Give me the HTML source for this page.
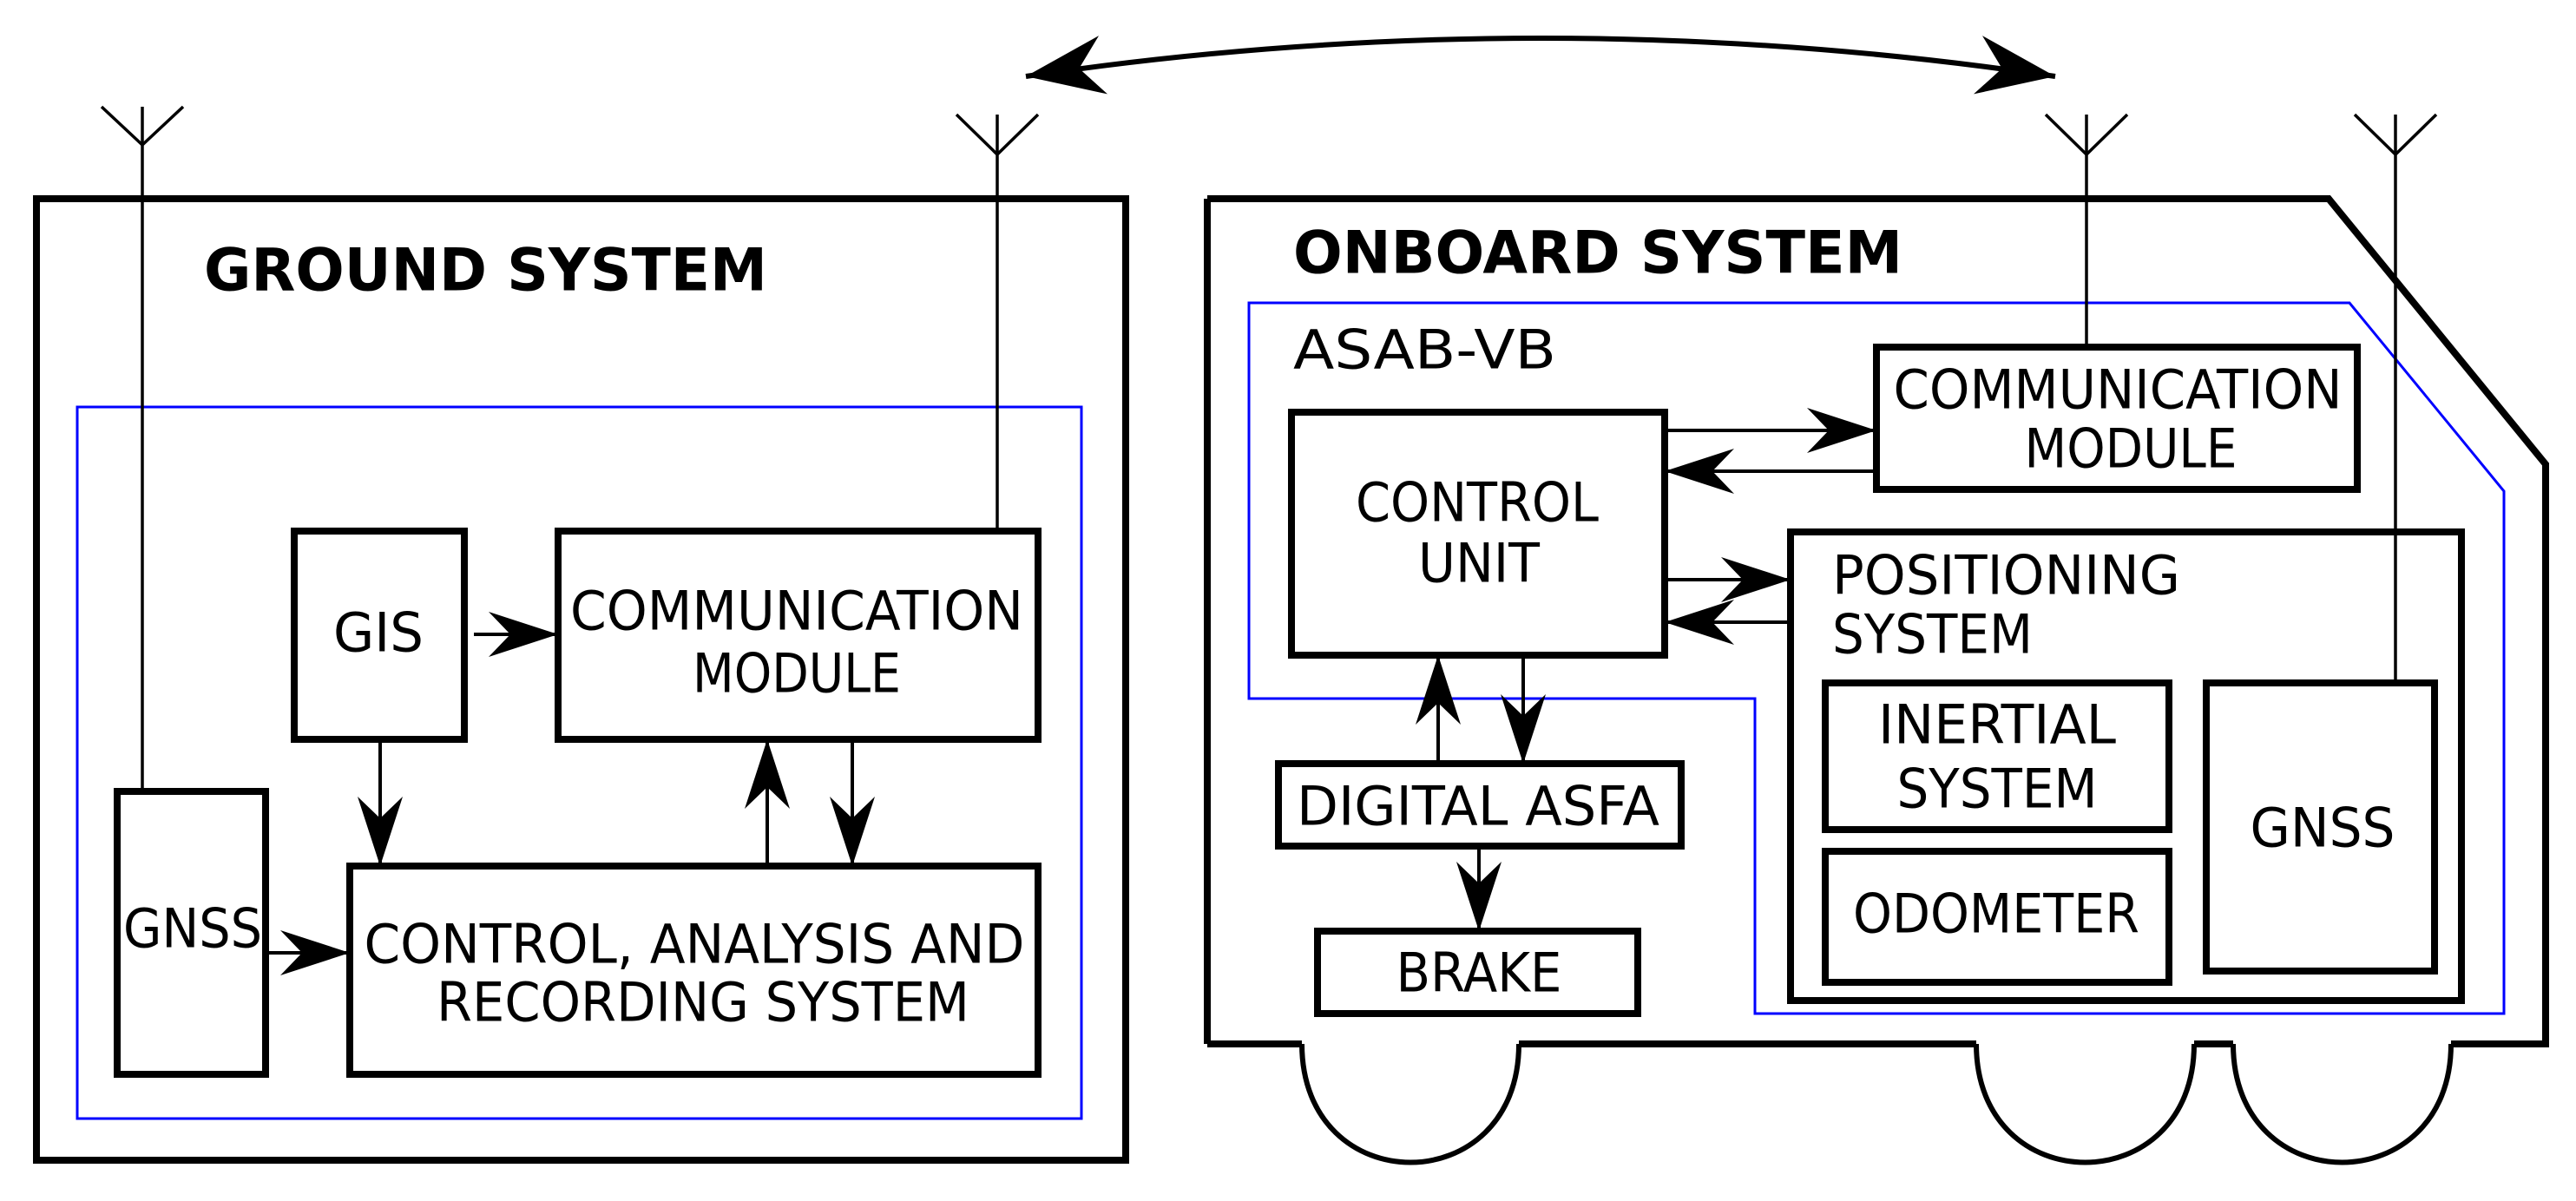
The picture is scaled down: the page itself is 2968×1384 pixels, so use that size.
<!DOCTYPE html>
<html><head><meta charset="utf-8"><style>
html,body{margin:0;padding:0;background:#fff;}
svg{display:block;}
text{font-family:"DejaVu Sans","Liberation Sans",sans-serif;font-size:62px;fill:#000;}
.b{font-weight:bold;font-size:68px;}
</style></head><body>
<svg width="2968" height="1384" viewBox="0 0 2968 1384" xmlns="http://www.w3.org/2000/svg">
<defs>
<marker id="ah" markerUnits="userSpaceOnUse" markerWidth="100" markerHeight="70" refX="0" refY="0" viewBox="-90 -35 100 70" orient="auto-start-reverse">
<path d="M0,0 L-80,-26 L-55,0 L-80,26 Z" fill="#000"/>
</marker>
<marker id="ah2" markerUnits="userSpaceOnUse" markerWidth="120" markerHeight="90" refX="0" refY="0" viewBox="-110 -45 120 90" orient="auto-start-reverse">
<path d="M0,0 L-90,-34 L-62,0 L-90,34 Z" fill="#000"/>
</marker>
</defs>
<g fill="none" stroke="#000">
<path d="M1182,88 Q1775,0 2368,88" stroke-width="6" marker-start="url(#ah2)" marker-end="url(#ah2)"/>

<rect x="42" y="229" width="1255" height="1108" stroke-width="8"/>
<rect x="89" y="469" width="1157" height="820" stroke="#0000ff" stroke-width="3"/>
<path d="M164,123 V908 M117,123 L164,167 L211,123" stroke-width="3.5"/>
<path d="M1149,132 V610 M1102,132 L1149,178 L1196,132" stroke-width="3.5"/>
<rect x="339" y="612" width="196" height="240" stroke-width="8"/>
<rect x="643" y="612" width="553" height="240" stroke-width="8"/>
<rect x="135" y="912" width="171" height="326" stroke-width="8"/>
<rect x="403" y="998" width="793" height="240" stroke-width="8"/>
<g stroke-width="4">
<line x1="546" y1="731" x2="643" y2="731" marker-end="url(#ah)"/>
<line x1="438" y1="852" x2="438" y2="998" marker-end="url(#ah)"/>
<line x1="884" y1="998" x2="884" y2="852" marker-end="url(#ah)"/>
<line x1="982" y1="852" x2="982" y2="998" marker-end="url(#ah)"/>
<line x1="306" y1="1098" x2="403" y2="1098" marker-end="url(#ah)"/>
</g>

<path d="M1391,229 L2683,229 L2933,535 L2933,1203 L2824,1203 M2573,1203 L2528,1203 M2277,1203 L1750,1203 M1500,1203 L1391,1203 Z" stroke-width="8" stroke-linejoin="miter"/>
<path d="M1391,229 V1203" stroke-width="8"/>
<path d="M2824,1203 C2824,1385 2573,1385 2573,1203 M2528,1203 C2528,1385 2277,1385 2277,1203 M1750,1203 C1750,1385 1500,1385 1500,1203" stroke-width="6"/>
<path d="M1439,349 L2707,349 L2885,566 L2885,1168 L2022,1168 L2022,805 L1439,805 Z" stroke="#0000ff" stroke-width="3"/>
<path d="M2404,132 V398 M2357,132 L2404,178 L2451,132" stroke-width="3.5"/>
<path d="M2760,132 V787 M2713,132 L2760,178 L2807,132" stroke-width="3.5"/>
<rect x="1488" y="475" width="430" height="280" stroke-width="8"/>
<rect x="2162" y="400" width="554" height="164" stroke-width="8"/>
<rect x="2063" y="613" width="773" height="540" stroke-width="8"/>
<rect x="2103" y="787" width="396" height="169" stroke-width="8"/>
<rect x="2103" y="981" width="396" height="151" stroke-width="8"/>
<rect x="2542" y="787" width="263" height="332" stroke-width="8"/>
<rect x="1473" y="880" width="464" height="95" stroke-width="8"/>
<rect x="1518" y="1073" width="369" height="95" stroke-width="8"/>
<g stroke-width="4">
<line x1="1918" y1="496" x2="2162" y2="496" marker-end="url(#ah)"/>
<line x1="2162" y1="543" x2="1918" y2="543" marker-end="url(#ah)"/>
<line x1="1918" y1="668" x2="2063" y2="668" marker-end="url(#ah)"/>
<line x1="2063" y1="717" x2="1918" y2="717" marker-end="url(#ah)"/>
<line x1="1657" y1="880" x2="1657" y2="755" marker-end="url(#ah)"/>
<line x1="1755" y1="755" x2="1755" y2="880" marker-end="url(#ah)"/>
<line x1="1704" y1="975" x2="1704" y2="1073" marker-end="url(#ah)"/>
</g>
</g>

<g dominant-baseline="central">
<text class="b" x="235" y="312" textLength="649" lengthAdjust="spacingAndGlyphs">GROUND SYSTEM</text>
<text x="436" y="729" text-anchor="middle" textLength="104" lengthAdjust="spacingAndGlyphs">GIS</text>
<text x="918" y="704" text-anchor="middle" textLength="522" lengthAdjust="spacingAndGlyphs">COMMUNICATION</text>
<text x="918" y="776" text-anchor="middle" textLength="240" lengthAdjust="spacingAndGlyphs">MODULE</text>
<text x="222" y="1070" text-anchor="middle" textLength="160" lengthAdjust="spacingAndGlyphs">GNSS</text>
<text x="800" y="1088" text-anchor="middle" textLength="761" lengthAdjust="spacingAndGlyphs">CONTROL, ANALYSIS AND</text>
<text x="810" y="1155" text-anchor="middle" textLength="614" lengthAdjust="spacingAndGlyphs">RECORDING SYSTEM</text>

<text class="b" x="1490" y="292" textLength="702" lengthAdjust="spacingAndGlyphs">ONBOARD SYSTEM</text>
<text x="1490" y="403" textLength="303" lengthAdjust="spacingAndGlyphs">ASAB-VB</text>
<text x="2440" y="449" text-anchor="middle" textLength="517" lengthAdjust="spacingAndGlyphs">COMMUNICATION</text>
<text x="2455" y="517" text-anchor="middle" textLength="245" lengthAdjust="spacingAndGlyphs">MODULE</text>
<text x="1702" y="579" text-anchor="middle" textLength="280" lengthAdjust="spacingAndGlyphs">CONTROL</text>
<text x="1704" y="649" text-anchor="middle" textLength="140" lengthAdjust="spacingAndGlyphs">UNIT</text>
<text x="2111" y="663" textLength="401" lengthAdjust="spacingAndGlyphs">POSITIONING</text>
<text x="2111" y="731" textLength="231" lengthAdjust="spacingAndGlyphs">SYSTEM</text>
<text x="2301" y="835" text-anchor="middle" textLength="274" lengthAdjust="spacingAndGlyphs">INERTIAL</text>
<text x="2301" y="909" text-anchor="middle" textLength="231" lengthAdjust="spacingAndGlyphs">SYSTEM</text>
<text x="2300" y="1053" text-anchor="middle" textLength="330" lengthAdjust="spacingAndGlyphs">ODOMETER</text>
<text x="2676" y="954" text-anchor="middle" textLength="167" lengthAdjust="spacingAndGlyphs">GNSS</text>
<text x="1703" y="929" text-anchor="middle" textLength="418" lengthAdjust="spacingAndGlyphs">DIGITAL ASFA</text>
<text x="1704" y="1121" text-anchor="middle" textLength="191" lengthAdjust="spacingAndGlyphs">BRAKE</text>
</g>
</svg>
</body></html>
